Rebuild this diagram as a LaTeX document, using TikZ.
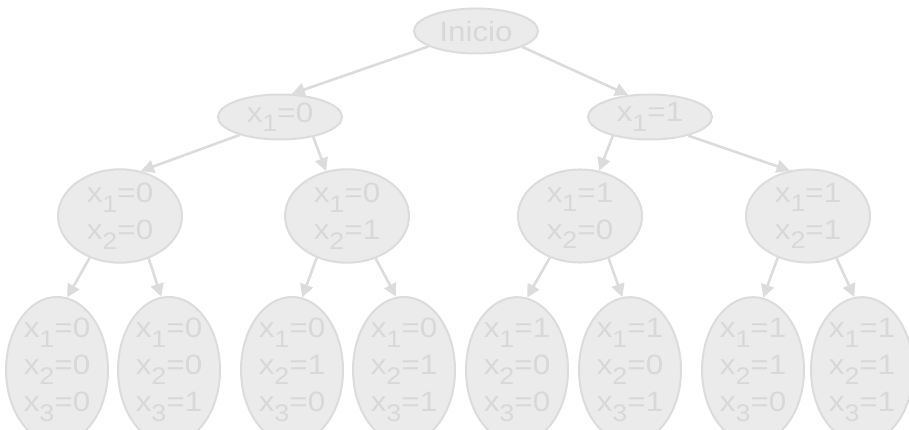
\documentclass[tikz,border=0pt]{standalone}
\usepackage{fontspec}
\setmainfont[FakeStretch=1.12]{Liberation Sans}
\usetikzlibrary{shapes.geometric,arrows.meta}
\definecolor{nfill}{HTML}{EBEBEB}
\definecolor{nline}{HTML}{DCDCDC}
\definecolor{ntext}{HTML}{D8D8D8}
\newcommand\lowsub[1]{\raisebox{-0.34em}{\fontsize{24}{24}\selectfont #1}}
\tikzset{
  nd/.style={ellipse,draw=nline,fill=nfill,line width=2pt,inner sep=0pt,
    text=ntext,font=\fontsize{28}{37}\selectfont,align=center},
  lone/.style={nd,minimum width=124pt,minimum height=45pt},
  ltwo/.style={nd,minimum width=124pt,minimum height=84pt},
  lthree/.style={nd,minimum width=102pt,minimum height=132pt},
  arr/.style={draw=nline,line width=2.6pt,-{Triangle[length=13pt,width=13pt]}}
}
\begin{document}
\begin{tikzpicture}[x=1pt,y=-1pt]
\useasboundingbox (0,0) rectangle (909,430);
\node[lone] (r) at (476,31) {Inicio};
\node[lone] (a) at (280,117) {x\lowsub{1}=0};
\node[lone] (b) at (650,117) {x\lowsub{1}=1};
\node[ltwo] (aa) at (120,216) {x\lowsub{1}=0\\x\lowsub{2}=0};
\node[ltwo] (ab) at (347,216) {x\lowsub{1}=0\\x\lowsub{2}=1};
\node[ltwo] (ba) at (580,216) {x\lowsub{1}=1\\x\lowsub{2}=0};
\node[ltwo] (bb) at (808,216) {x\lowsub{1}=1\\x\lowsub{2}=1};
\node[lthree] (aaa) at (57,370) {x\lowsub{1}=0\\x\lowsub{2}=0\\x\lowsub{3}=0};
\node[lthree] (aab) at (169,370) {x\lowsub{1}=0\\x\lowsub{2}=0\\x\lowsub{3}=1};
\node[lthree] (aba) at (292,370) {x\lowsub{1}=0\\x\lowsub{2}=1\\x\lowsub{3}=0};
\node[lthree] (abb) at (404,370) {x\lowsub{1}=0\\x\lowsub{2}=1\\x\lowsub{3}=1};
\node[lthree] (baa) at (517,370) {x\lowsub{1}=1\\x\lowsub{2}=0\\x\lowsub{3}=0};
\node[lthree] (bab) at (630,370) {x\lowsub{1}=1\\x\lowsub{2}=0\\x\lowsub{3}=1};
\node[lthree] (bba) at (753,370) {x\lowsub{1}=1\\x\lowsub{2}=1\\x\lowsub{3}=0};
\node[lthree] (bbb) at (862,370) {x\lowsub{1}=1\\x\lowsub{2}=1\\x\lowsub{3}=1};
\draw[arr] (r.198) -- (a.63);
\draw[arr] (r.341) -- (b.135);
\draw[arr] (a.204) -- (aa.65);
\draw[arr] (a.329) -- (ab.115);
\draw[arr] (b.207) -- (ba.67);
\draw[arr] (b.334) -- (bb.112);
\foreach \p/\l/\r in {aa/aaa/aab,ab/aba/abb,ba/baa/bab,bb/bba/bbb}{
  \draw[arr] (\p.234) -- (\l.82);
  \draw[arr] (\p.304) -- (\r.96);
}
\end{tikzpicture}
\end{document}
